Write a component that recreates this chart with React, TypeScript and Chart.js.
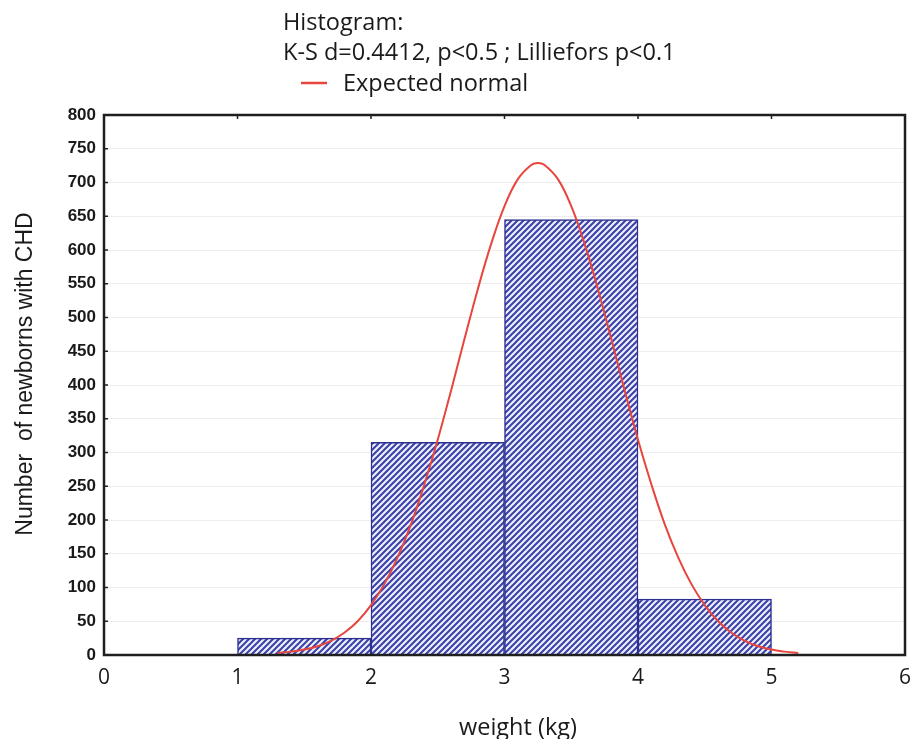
import React, { useEffect, useRef } from "react";
import { Chart, registerables } from "chart.js";

Chart.register(...registerables);

// ---- data ----
const binCenters = [1.5, 2.5, 3.5, 4.5];
const binCounts = [25, 315, 645, 83];

const curveX = [
  1.3, 1.4, 1.5, 1.6, 1.7, 1.8, 1.9, 2.0, 2.1, 2.2, 2.3, 2.4, 2.5, 2.6, 2.7, 2.8, 2.9, 3.0,
  3.1, 3.2, 3.25, 3.3, 3.4, 3.5, 3.6, 3.7, 3.8, 3.9, 4.0, 4.1, 4.2, 4.3, 4.4, 4.5, 4.6, 4.7,
  4.8, 4.9, 5.0, 5.1, 5.2,
];
const curveY = [
  3, 5, 8, 13, 21, 33, 50, 74, 105, 145, 194, 253, 319, 392, 468, 542, 609, 665,
  705, 726, 729, 726, 705, 665, 609, 542, 468, 392, 319, 253, 194, 145, 105, 74, 50, 33,
  21, 13, 8, 5, 3,
];

const xTickValues = [0, 1, 2, 3, 4, 5, 6];
const yTickValues = [0, 50, 100, 150, 200, 250, 300, 350, 400, 450, 500, 550, 600, 650, 700, 750, 800];

const titleLines = ["Histogram:", "K-S d=0.4412, p<0.5 ; Lilliefors p<0.1"];
const legendLabel = "Expected normal";
const xTitle = "weight (kg)";
const yTitle = "Number  of newborns with CHD";

function makeHatch(): CanvasPattern | string {
  const c = document.createElement("canvas");
  const s = 6;
  c.width = s;
  c.height = s;
  const g = c.getContext("2d");
  if (!g) return "#8a8fd0";
  g.fillStyle = "#eceef9";
  g.fillRect(0, 0, s, s);
  g.strokeStyle = "#3a40a8";
  g.lineWidth = 2;
  g.beginPath();
  g.moveTo(-1, s + 1);
  g.lineTo(s + 1, -1);
  g.moveTo(-1, 1);
  g.lineTo(1, -1);
  g.moveTo(s - 1, s + 1);
  g.lineTo(s + 1, s - 1);
  g.stroke();
  const p = g.createPattern(c, "repeat");
  return p || "#8a8fd0";
}

const decorPlugin = {
  id: "decor",
  afterDatasetsDraw(chart: any) {
    const { ctx, chartArea } = chart;
    const ys = chart.scales.y;
    const xs = chart.scales.x;
    ctx.save();
    // inward tick marks
    ctx.strokeStyle = "#222";
    ctx.lineWidth = 1.5;
    ctx.beginPath();
    for (const v of yTickValues) {
      const py = ys.getPixelForValue(v);
      ctx.moveTo(chartArea.left, py);
      ctx.lineTo(chartArea.left + 4, py);
    }
    for (const v of xTickValues) {
      const px = xs.getPixelForValue(v);
      ctx.moveTo(px, chartArea.top);
      ctx.lineTo(px, chartArea.top + 4);
    }
    ctx.stroke();
    // frame
    ctx.strokeStyle = "#1e1e1e";
    ctx.lineWidth = 2.5;
    ctx.strokeRect(
      chartArea.left,
      chartArea.top,
      chartArea.right - chartArea.left,
      chartArea.bottom - chartArea.top
    );
    ctx.restore();
  },
  afterDraw(chart: any) {
    const { ctx } = chart;
    ctx.save();
    ctx.fillStyle = "#1a1a1a";
    ctx.textBaseline = "alphabetic";
    ctx.textAlign = "left";
    ctx.font = "23.5px 'Open Sans'";
    ctx.fillText(titleLines[0], 283, 30);
    ctx.fillText(titleLines[1], 283, 60);
    ctx.strokeStyle = "#e8453e";
    ctx.lineWidth = 2.5;
    ctx.beginPath();
    ctx.moveTo(301, 83);
    ctx.lineTo(327, 83);
    ctx.stroke();
    ctx.fillText(legendLabel, 343, 91);
    // x-axis title
    ctx.font = "23.5px 'Open Sans'";
    ctx.textAlign = "center";
    ctx.fillText(xTitle, 518, 735);
    // y-axis title
    ctx.translate(32, 374);
    ctx.rotate(-Math.PI / 2);
    ctx.font = "23px 'Liberation Sans'";
    ctx.textAlign = "center";
    ctx.fillText(yTitle, 0, 0);
    ctx.restore();
  },
};

export default function App() {
  const ref = useRef<HTMLCanvasElement | null>(null);

  useEffect(() => {
    if (!ref.current) return;
    const hatch = makeHatch();
    const chart = new Chart(ref.current, {
      type: "bar",
      data: {
        datasets: [
          {
            type: "line",
            label: legendLabel,
            data: curveX.map((x, i) => ({ x, y: curveY[i] })),
            borderColor: "#e8453e",
            borderWidth: 2,
            pointRadius: 0,
            tension: 0.4,
            fill: false,
            order: 0,
          } as any,
          {
            type: "bar",
            label: "weight",
            data: binCenters.map((x, i) => ({ x, y: binCounts[i] })),
            backgroundColor: hatch as any,
            borderColor: "#2b2f8f",
            borderWidth: 1.5,
            barPercentage: 1,
            categoryPercentage: 1,
            order: 1,
          } as any,
        ],
      },
      options: {
        animation: false,
        responsive: false,
        maintainAspectRatio: false,
        layout: { padding: { top: 115, right: 7, left: 0, bottom: 0 } },
        plugins: {
          legend: { display: false },
          title: { display: false },
          tooltip: { enabled: false },
        },
        scales: {
          x: {
            type: "linear",
            min: 0,
            max: 6,
            offset: false,
            afterFit: (s: any) => {
              s.height = 84;
              s.paddingLeft = 0;
              s.paddingRight = 0;
            },
            afterBuildTicks: (s: any) => {
              s.ticks = xTickValues.map((v) => ({ value: v }));
            },
            grid: { display: false, drawTicks: false },
            border: { display: false },
            ticks: {
              padding: 10,
              color: "#1a1a1a",
              font: { family: "'Open Sans'", size: 21 },
            },
          },
          y: {
            type: "linear",
            min: 0,
            max: 800,
            afterFit: (s: any) => {
              s.width = 104;
              s.paddingTop = 0;
              s.paddingBottom = 0;
            },
            afterBuildTicks: (s: any) => {
              s.ticks = yTickValues.map((v) => ({ value: v }));
            },
            grid: {
              drawTicks: false,
              color: "rgba(0,0,0,0.07)",
              lineWidth: 1,
            },
            border: { display: false },
            ticks: {
              padding: 8,
              color: "#1a1a1a",
              font: { family: "Liberation Sans", size: 17, weight: "bold" },
            },
            title: { display: false },
          },
        },
      } as any,
      plugins: [decorPlugin],
    });
    return () => chart.destroy();
  }, []);

  return (
    <div style={{ position: "fixed", left: 0, top: 0, width: 912, height: 739, background: "#fff" }}>
      <canvas ref={ref} width={912} height={739} style={{ width: 912, height: 739, display: "block" }} />
    </div>
  );
}
